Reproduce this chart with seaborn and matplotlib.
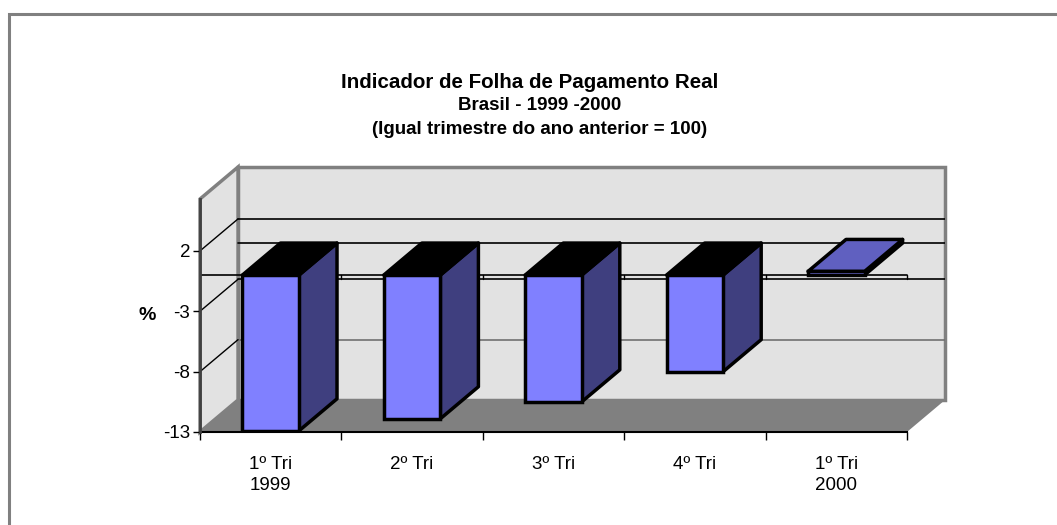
import numpy as np
import matplotlib
matplotlib.use("Agg")
import matplotlib.pyplot as plt
import seaborn as sns
from matplotlib.patches import Polygon, Rectangle

# dados
trimestres = ["1º Tri\n1999", "2º Tri", "3º Tri", "4º Tri", "1º Tri\n2000"]
indicador = [-12.9, -11.9, -10.5, -8.0, 0.3]
y_ticks = [-13, -8, -3, 2]

sns.set_theme(style="white")
plt.rcParams["font.family"] = ["Liberation Sans", "DejaVu Sans"]
plt.rcParams["text.color"] = "black"
plt.rcParams["xtick.color"] = "black"
plt.rcParams["ytick.color"] = "black"

W, H = 1057, 525
fig = plt.figure(figsize=(W / 100, H / 100), dpi=100)
ax = fig.add_axes([200 / W, 1 - 432 / H, 745 / W, 265 / H])

# profundidade do efeito 3D (em unidades de dados)
dx, dy = 0.269, 2.65
ymin, ytop = -13, 6.3
x0, x1 = -0.5, len(trimestres) - 0.5

# paredes e piso
wall = "#e2e2e2"
ax.add_patch(Rectangle((x0 + dx, ymin + dy), x1 - x0, ytop - ymin, facecolor=wall,
                       edgecolor="#808080", lw=2.5, zorder=0, clip_on=False))
ax.add_patch(Polygon([(x0, ymin), (x0, ytop), (x0 + dx, ytop + dy), (x0 + dx, ymin + dy)],
                     closed=True, facecolor=wall, edgecolor="#808080", lw=2.5, zorder=0, clip_on=False))
ax.add_patch(Polygon([(x0, ymin), (x1, ymin), (x1 + dx, ymin + dy), (x0 + dx, ymin + dy)],
                     closed=True, facecolor="#808080", edgecolor="none", zorder=0.2, clip_on=False))

# linhas de grade (parede do fundo e parede lateral)
for v in y_ticks[1:] + [0]:
    c = "#707070" if v == -8 else "black"
    ax.plot([x0 + dx, x1 + dx], [v + dy, v + dy], color=c, lw=1.2, zorder=0.3)
for v in y_ticks[1:]:
    ax.plot([x0, x0 + dx], [v, v + dy], color="black", lw=1, zorder=0.3)

# linha do zero no plano frontal
ax.plot([x0, x1], [0, 0], color="black", lw=1.2, zorder=0.5)
for b in np.arange(x0 + 1, x1 + 0.01, 1):
    ax.plot([b, b], [0, -0.35], color="black", lw=1, zorder=0.5)

# barras
sns.barplot(x=trimestres, y=indicador, width=0.40, color="#8080FF", saturation=1,
            edgecolor="black", linewidth=2.5, ax=ax, zorder=3)

for p, v in zip(ax.containers[0], indicador):
    bx, bw = p.get_x(), p.get_width()
    lo, hi = sorted([p.get_y(), p.get_y() + p.get_height()])
    side = [(bx + bw, lo), (bx + bw, hi), (bx + bw + dx, hi + dy), (bx + bw + dx, lo + dy)]
    top = [(bx, hi), (bx + bw, hi), (bx + bw + dx, hi + dy), (bx + dx, hi + dy)]
    ax.add_patch(Polygon(side, closed=True, facecolor="#3f3f7f", edgecolor="black",
                         lw=2.5, joinstyle="round", zorder=2.5))
    ax.add_patch(Polygon(top, closed=True, facecolor="black" if v < 0 else "#6060c0",
                         edgecolor="black", lw=2.5, joinstyle="round", zorder=2.5))

ax.set_xlim(x0, x1 + dx)
ax.set_ylim(ymin, ytop + dy)

# eixos
for s in ["top", "right"]:
    ax.spines[s].set_visible(False)
ax.spines["left"].set_bounds(ymin, ytop)
ax.spines["left"].set_color("#404040")
ax.spines["left"].set_linewidth(2)
ax.spines["left"].set_zorder(4)
ax.spines["bottom"].set_bounds(x0, x1)
ax.spines["bottom"].set_color("black")
ax.spines["bottom"].set_linewidth(1.5)

ax.set_yticks(y_ticks)
ax.set_yticklabels([str(t) for t in y_ticks], fontsize=13.5)
ax.set_xticks(np.arange(x0, x1 + 0.01, 1))
ax.set_xticklabels([""] * (len(trimestres) + 1))
ax.set_xticks(range(len(trimestres)), minor=True)
ax.set_xticklabels(trimestres, minor=True, fontsize=13.5, linespacing=1.35, va="top")
ax.tick_params(axis="y", left=True, length=5, width=1, pad=2, color="black")
ax.tick_params(axis="x", which="major", bottom=True, length=6, width=1, color="black")
ax.tick_params(axis="x", which="minor", bottom=False, length=0, pad=17)
ax.set_xlabel("")
ax.set_ylabel("")
ax.patch.set_alpha(0)

fig.text(147 / W, 1 - 315 / H, "%", fontsize=14, fontweight="bold", ha="center", va="center")

# títulos
fig.text(530 / W, 1 - 82 / H, "Indicador de Folha de Pagamento Real", fontsize=14.8,
         fontweight="bold", ha="center", va="center")
fig.text(540 / W, 1 - 106 / H, "Brasil - 1999 -2000", fontsize=13.5,
         fontweight="bold", ha="center", va="center")
fig.text(540 / W, 1 - 129 / H, "(Igual trimestre do ano anterior = 100)", fontsize=13.5,
         fontweight="bold", ha="center", va="center")

# moldura
fig.patches.append(Rectangle((9 / W, -0.1), 1.2, 1 - 14 / H + 0.1, transform=fig.transFigure,
                             facecolor="none", edgecolor="#808080", lw=2.2))

fig.savefig("out.png", dpi=100)
